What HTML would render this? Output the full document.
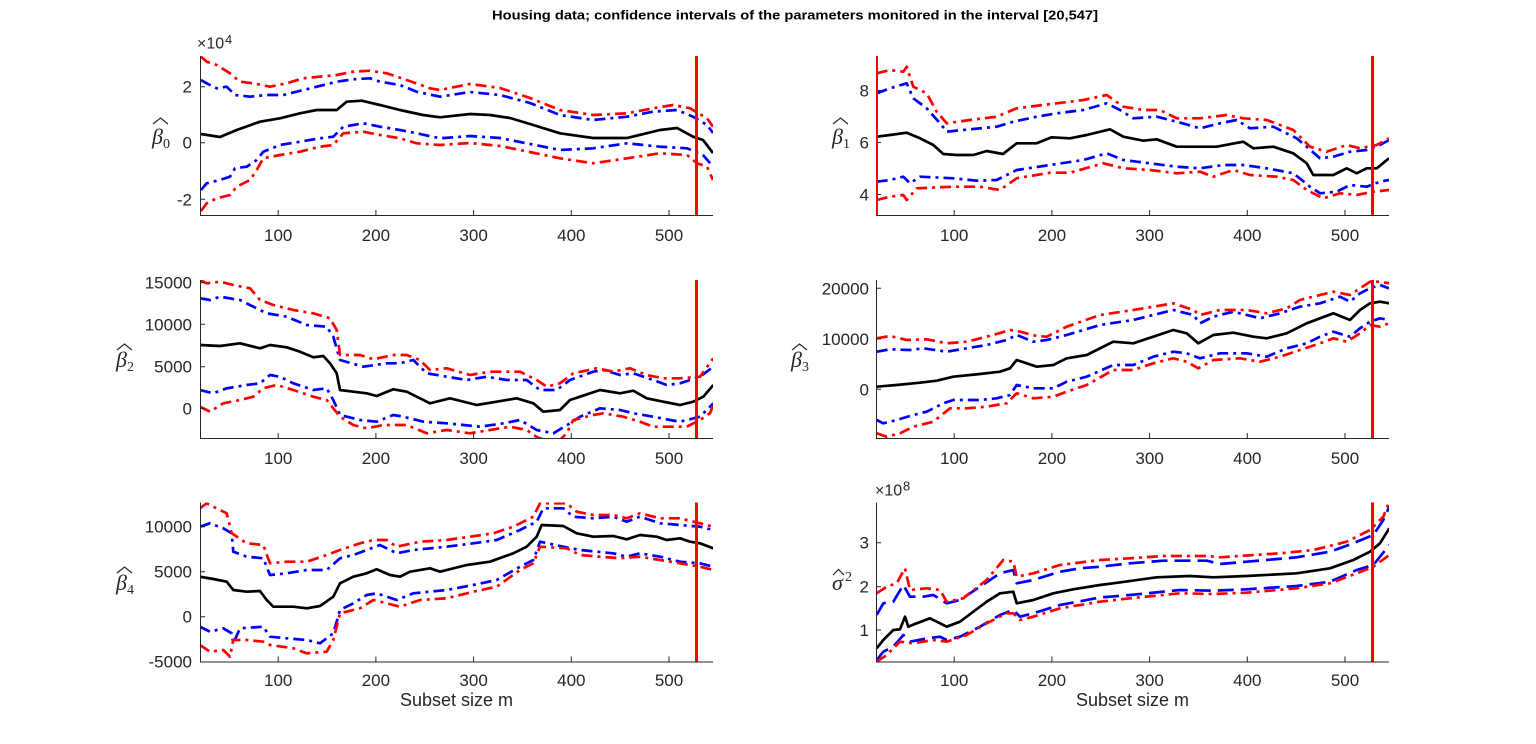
<!DOCTYPE html>
<html><head><meta charset="utf-8"><style>
html,body{margin:0;padding:0;background:#fff;}
svg{display:block;}
text{font-family:"Liberation Sans",Arial,sans-serif;fill:#262626;}
.tk{font-size:17px;}
.ax{stroke:#262626;stroke-width:1;fill:none;}
.k{stroke:#000;stroke-width:2.7;fill:none;stroke-linejoin:round;}
.b{stroke:#0000ff;stroke-width:2.7;fill:none;stroke-dasharray:11 5 3 5;stroke-linejoin:round;}
.r{stroke:#ff0000;stroke-width:2.7;fill:none;stroke-dasharray:11 5 3 5;stroke-linejoin:round;}
.bd{stroke:#0000ff;stroke-width:2.7;fill:none;stroke-dasharray:16 7;stroke-linejoin:round;}
.v{stroke:#ff0000;stroke-width:3;}
.lab{font-family:"Liberation Serif","DejaVu Serif",serif;font-style:italic;font-size:22px;fill:#262626;}
.sub{font-family:"Liberation Serif","DejaVu Serif",serif;font-size:14px;fill:#262626;}
.hat{stroke:#262626;stroke-width:1.2;fill:none;}
</style></head><body>
<svg width="1536" height="744" viewBox="0 0 1536 744" xmlns="http://www.w3.org/2000/svg">
<defs>
<clipPath id="c1"><rect x="200" y="56" width="513" height="159"/></clipPath>
<clipPath id="c2"><rect x="876" y="56" width="513" height="159"/></clipPath>
<clipPath id="c3"><rect x="200" y="280" width="513" height="158"/></clipPath>
<clipPath id="c4"><rect x="876" y="280" width="513" height="158"/></clipPath>
<clipPath id="c5"><rect x="200" y="502.5" width="513" height="159"/></clipPath>
<clipPath id="c6"><rect x="876" y="502.5" width="513" height="159"/></clipPath>
</defs>
<rect width="1536" height="744" fill="#fff"/>

<text x="795" y="19.5" text-anchor="middle" font-weight="bold" font-size="13" textLength="606" lengthAdjust="spacingAndGlyphs" style="fill:#000">Housing data; confidence intervals of the parameters monitored in the interval [20,547]</text>

<!-- ===== Panel 1 ===== -->
<g clip-path="url(#c1)">
<polyline class="k" points="201,134 220,137 236.7,130 260,121.7 280,118.3 300,113.3 316.7,110 336.7,110 346.7,101.7 361.7,100.7 380,105 400,110 423,115 440,117.3 470,114 490,115 510,118 530,124 560,133.3 593,138 627,138 660,130 677,128 693,136.7 703,140 713,153"/>
<polyline class="b" points="201,80 206.7,83.3 216.7,88.3 226.7,86.7 235,95 250,96.7 266.7,95 283.3,95 296.7,91.7 316.7,86.7 336.7,81.7 353.3,79.3 370,78.3 380,81.7 400,85 416.7,91.7 440,96.7 470,92 500,95 530,103 560,115 593,120 627,116.7 653,111.7 677,110 693,116.7 707,125 713,133"/>
<polyline class="b" points="201,190 206.7,183.3 220,180 230,176.7 235,168.3 246.7,166.7 256.7,160 263.3,151.7 280,145 300,141.7 320,138.3 333.3,136.7 343.3,126.7 363.3,123.3 380,126.7 400,130 416.7,133.3 440,138.3 470,136 500,138 530,144 560,150 593,148.3 627,143.3 660,146.7 687,148.3 703,155 713,166.7"/>
<polyline class="r" points="201,56.7 206.7,61.7 216.7,65 230,73.3 240,81.7 253,83.3 270,86.7 286.7,83.3 303,78.3 320,76.7 336.7,75 353.3,71.7 370,70.7 386.7,73.3 406.7,80 430,88.3 440,90 470,84 500,88 530,98 560,110 593,115 627,113.3 653,108.3 673,105 690,108.3 707,118.3 713,126.7"/>
<polyline class="r" points="201,211 206.7,203.3 216.7,198.3 230,195 236.7,186.7 250,180 256.7,170 263.3,158.3 280,155 300,151.7 320,146.7 333.3,145 343.3,133.3 363.3,131.7 380,135 400,138.3 416.7,143.3 440,145 470,143 500,146 530,152 560,158.3 593,163.3 627,158.3 660,153.3 687,155 697,163.3 707,166.7 713,180"/>
<line class="v" x1="696.5" y1="56" x2="696.5" y2="215"/>
</g>
<path class="ax" d="M200.5 56V215.5H713 M200 86.7h5 M200 142.7h5 M200 199.3h5 M278.2 215v-5 M375.9 215v-5 M473.6 215v-5 M571.3 215v-5 M669 215v-5"/>
<g class="tk" text-anchor="end"><text x="192" y="92.7">2</text><text x="192" y="148.7">0</text><text x="192" y="205.3">-2</text></g>
<g class="tk" text-anchor="middle"><text x="278.2" y="241">100</text><text x="375.9" y="241">200</text><text x="473.6" y="241">300</text><text x="571.3" y="241">400</text><text x="669" y="241">500</text></g>
<text x="197" y="48.5" font-size="16">×10</text><text x="225" y="44" font-size="13">4</text>
<text class="lab" x="152" y="144">β</text><text class="sub" x="163" y="148">0</text><path class="hat" d="M153 124 L160.5 118 L168 124"/>

<!-- ===== Panel 2 ===== -->
<g clip-path="url(#c2)">
<polyline class="k" points="876.7,136.7 890,135 906.7,132.7 920,138.3 933.3,145 943.3,154 956.7,155 973.3,155 986.7,151 1003,154 1016.7,143.3 1036.7,143.3 1051.7,137.3 1070,138.3 1086.7,135 1110,129.3 1123.3,136.7 1143.3,140.7 1156.7,139.3 1176.7,146.7 1200,146.7 1216.7,146.7 1243.3,141.7 1253.3,148.3 1273.3,146.7 1293.3,153.3 1306.7,163.3 1313.3,175 1333.3,175 1346.7,168.3 1356.7,173.3 1366.7,168.3 1376.7,168.3 1389,158.3"/>
<polyline class="b" points="876.7,93.3 890,88.3 906.7,83.3 913.3,98.3 926.7,108.3 940,123.3 946.7,131.7 970,129.3 996.7,126.7 1013.3,121.7 1036.7,116.7 1056.7,113.3 1083.3,110 1106.7,103.3 1120,110 1133.3,118.3 1156.7,116.7 1176.7,121.7 1200,128.3 1220,123.3 1236.7,120 1250,128.3 1273.3,126.7 1296.7,138.3 1306.7,146.7 1320,158.3 1333.3,156.7 1350,151.7 1366.7,150 1380,145 1389,140"/>
<polyline class="b" points="876.7,181.7 890,180 903.3,176.7 910,183.3 920,176.7 953.3,178.3 976.7,180.7 996.7,180 1016.7,170 1050,165 1083.3,160 1106.7,153.3 1123.3,160 1150,163.3 1176.7,166.7 1200,168.3 1223.3,165 1243.3,165 1266.7,168.3 1293.3,173.3 1310,186.7 1320,193.3 1336.7,191.7 1350,185 1366.7,186.7 1380,181.7 1389,180"/>
<polyline class="r" points="876.7,73.3 890,70 903.3,71.7 906.7,66.7 913.3,86.7 926.7,93.3 936.7,111.7 946.7,123.3 970,120 996.7,116.7 1016.7,108.3 1056.7,103.3 1083.3,100 1106.7,95 1123.3,106.7 1143.3,110 1160,110 1176.7,118.3 1200,118.3 1226.7,115 1243.3,118.3 1266.7,120 1293.3,130 1310,146.7 1326.7,151.7 1346.7,145 1360,148.3 1376.7,145 1389,138.3"/>
<polyline class="r" points="876.7,200 890,196.7 903.3,195 906.7,200 916.7,188.3 953.3,186.7 980,186.7 1000,190 1016.7,178.3 1050,172.7 1070,172.7 1103.3,163.3 1123.3,168.3 1150,170 1176.7,173.3 1200,171.7 1213.3,176.7 1233.3,170 1250,175 1276.7,176.7 1293.3,180 1306.7,190 1323.3,198.3 1340,193.3 1356.7,195 1373.3,191.7 1389,190"/>
<line class="v" x1="1372.5" y1="56" x2="1372.5" y2="215"/>
</g>
<path class="ax" d="M876.5 56V215.5H1389 M876 90.5h5 M876 142.5h5 M876 194.5h5 M954.2 215v-5 M1051.9 215v-5 M1149.6 215v-5 M1247.3 215v-5 M1345 215v-5"/>
<line x1="877" y1="56" x2="877" y2="215" stroke="#ff0000" stroke-width="2"/>
<g class="tk" text-anchor="end"><text x="869" y="96.5">8</text><text x="869" y="148.5">6</text><text x="869" y="200.5">4</text></g>
<g class="tk" text-anchor="middle"><text x="954.2" y="241">100</text><text x="1051.9" y="241">200</text><text x="1149.6" y="241">300</text><text x="1247.3" y="241">400</text><text x="1345" y="241">500</text></g>
<text class="lab" x="832" y="144">β</text><text class="sub" x="843" y="148">1</text><path class="hat" d="M833 124 L840.5 118 L848 124"/>

<!-- ===== Panel 3 ===== -->
<g clip-path="url(#c3)">
<polyline class="k" points="200,345 220,346 240,343.3 260,348.3 270,345 286.7,347.3 300,351.7 313.3,357.3 323.3,356 330,363.3 336.7,373.3 340,390 353.3,391.7 366.7,393.3 376.7,396 393.3,389.3 406.7,391.7 430,403.3 450,398.3 476.7,405 496.7,401.7 516.7,398.3 533.3,403.3 543.3,411.7 560,410 570,400 580,396.7 600,390 620,393.3 633.3,390.7 646.7,398.3 663.3,401.7 680,405 693.3,401.7 703.3,396.7 713.3,385"/>
<polyline class="b" points="200,298.3 210,300 220,296.7 240,300 253.3,306.7 266.7,313.3 286.7,316.7 306.7,325 326.7,326.7 333.3,336.7 340,360 363.3,366.7 386.7,363.3 400,363.3 413.3,360 426.7,373.3 446.7,376.7 466.7,380 486.7,376.7 506.7,380 526.7,380 540,390 556.7,390 570,380 593.3,371.7 603.3,370 620,375 633.3,373.3 653.3,380 666.7,385 680,383.3 700,376.7 713.3,366.7"/>
<polyline class="b" points="200,390 213.3,393.3 226.7,388.3 246.7,385 260,383.3 270,375 280,376.7 293.3,383.3 313.3,390 326.7,388.3 333.3,400 340,415 360,420 376.7,421.7 393.3,415 403.3,416.7 423.3,421.7 446.7,423.3 480,426.7 503.3,423.3 520,420 536.7,430 553.3,433.3 570,423.3 580,416.7 600,408.3 620,410 633.3,413.3 653.3,416.7 670,420 680,421.7 700,416.7 713.3,403.3"/>
<polyline class="r" points="200,280 206.7,283.3 220,281.7 233.3,285 250,288.3 260,300 273.3,305 293.3,310 313.3,313.3 330,318.3 336.7,330 340,355 360,355 373.3,359.3 393.3,355 406.7,355 420,360 430,370 446.7,368.3 470,375 490,371.7 520,371.7 536.7,380 546.7,386.7 560,383.3 573.3,373.3 596.7,368.3 613.3,371.7 630,368.3 646.7,375 663.3,378.3 680,378.3 700,376.7 713.3,358.3"/>
<polyline class="r" points="200,406.7 210,411.7 223.3,403.3 240,400 253.3,396.7 263.3,388.3 276.7,385 293.3,390 313.3,396.7 326.7,400 340,416.7 353.3,425 366.7,428.3 383.3,425 406.7,425 426.7,433.3 446.7,430 470,433.3 490,430 510,426.7 526.7,430 536.7,437 550,442 560,440 566.7,433.3 573.3,420 593.3,415 603.3,413.3 623.3,416.7 640,421.7 653.3,426.7 670,426.7 686.7,426.7 700,420 710,413.3 713.3,405"/>
<line class="v" x1="696.5" y1="280" x2="696.5" y2="438"/>
</g>
<path class="ax" d="M200.5 280V438.5H713 M200 282.7h5 M200 324.3h5 M200 366.7h5 M200 408.3h5 M278.2 438v-5 M375.9 438v-5 M473.6 438v-5 M571.3 438v-5 M669 438v-5"/>
<g class="tk" text-anchor="end"><text x="192" y="288.7">15000</text><text x="192" y="330.3">10000</text><text x="192" y="372.7">5000</text><text x="192" y="414.3">0</text></g>
<g class="tk" text-anchor="middle"><text x="278.2" y="464">100</text><text x="375.9" y="464">200</text><text x="473.6" y="464">300</text><text x="571.3" y="464">400</text><text x="669" y="464">500</text></g>
<text class="lab" x="116" y="367">β</text><text class="sub" x="127" y="371">2</text><path class="hat" d="M117 350 L124.5 344 L132 350"/>

<!-- ===== Panel 4 ===== -->
<g clip-path="url(#c4)">
<polyline class="k" points="876.7,386.7 896.7,385 920,382.7 936.7,380.7 953.3,376.7 980,374 1000,371.7 1010,368.3 1016.7,360 1026.7,363.3 1036.7,366.7 1053.3,365 1066.7,358.3 1086.7,355 1113.3,341.7 1133.3,343.3 1153.3,336.7 1173.3,330 1186.7,333.3 1198.3,343.3 1213.3,335 1233.3,332.7 1253.3,336.7 1266.7,338.3 1286.7,333.3 1306.7,323.3 1320,318.3 1333.3,313.3 1350,320 1360,310 1370,303.3 1380,301.7 1389,303.3"/>
<polyline class="b" points="876.7,351.7 890,349.3 910,350 923.3,348.3 946.7,351.7 966.7,348.3 986.7,345 1006.7,340 1016.7,335 1033.3,341.7 1046.7,340 1066.7,335 1100,325 1133.3,320 1153.3,315 1173.3,310 1193.3,315 1200,323.3 1213.3,316.7 1233.3,311.7 1260,318.3 1280,313.3 1300,306.7 1320,303.3 1340,296.7 1350,301.7 1360,293.3 1370,288.3 1380,285 1389,288.3"/>
<polyline class="b" points="876.7,420 883.3,423.3 896.7,420 913.3,415 926.7,411.7 943.3,403.3 953.3,400 980,400 996.7,398.3 1010,395 1016.7,385 1033.3,388.3 1053.3,388.3 1066.7,381.7 1086.7,376.7 1113.3,365 1133.3,365 1153.3,356.7 1173.3,351.7 1186.7,353.3 1200,358.3 1220,353.3 1246.7,353.3 1266.7,356.7 1286.7,348.3 1306.7,343.3 1320,336.7 1333.3,331.7 1350,336.7 1360,328.3 1370,321.7 1380,318.3 1389,320"/>
<polyline class="r" points="876.7,338.3 890,336 906.7,340 926.7,339.3 946.7,343.3 966.7,341.7 993.3,335 1010,330 1020,331.7 1036.7,336 1046.7,336.7 1066.7,326.7 1100,315 1133.3,310 1153.3,306.7 1173.3,303.3 1193.3,310 1200,315 1220,310 1246.7,310 1266.7,313.3 1286.7,308.3 1300,300 1320,295 1333.3,291.7 1350,295 1360,288.3 1370,281.7 1380,281.7 1389,283.3"/>
<polyline class="r" points="876.7,433.3 886.7,436.7 900,433.3 913.3,426.7 933.3,421.7 950,408.3 966.7,408.3 986.7,406.7 1006.7,403.3 1016.7,393.3 1033.3,398.3 1053.3,396.7 1066.7,391.7 1086.7,385 1113.3,370 1133.3,370 1153.3,363.3 1173.3,358.3 1186.7,361.7 1198.3,368.3 1213.3,360 1240,358.3 1260,361.7 1280,356.7 1300,350 1320,343.3 1333.3,338.3 1346.7,341.7 1360,333.3 1370,325 1380,326.7 1389,323.3"/>
<line class="v" x1="1372.5" y1="280" x2="1372.5" y2="438"/>
</g>
<path class="ax" d="M876.5 280V438.5H1389 M876 288.3h5 M876 339h5 M876 389.3h5 M954.2 438v-5 M1051.9 438v-5 M1149.6 438v-5 M1247.3 438v-5 M1345 438v-5"/>
<g class="tk" text-anchor="end"><text x="869" y="294.3">20000</text><text x="869" y="345">10000</text><text x="869" y="395.3">0</text></g>
<g class="tk" text-anchor="middle"><text x="954.2" y="464">100</text><text x="1051.9" y="464">200</text><text x="1149.6" y="464">300</text><text x="1247.3" y="464">400</text><text x="1345" y="464">500</text></g>
<text class="lab" x="791" y="367">β</text><text class="sub" x="802" y="371">3</text><path class="hat" d="M792 350 L799.5 344 L807 350"/>

<!-- ===== Panel 5 ===== -->
<g clip-path="url(#c5)">
<polyline class="k" points="200,576.7 213.3,579 226.7,581.7 233.3,590 246.7,591.7 260,591 266.7,600 273.3,606.7 293.3,606.7 306.7,608.3 320,606 333.3,596.7 340,583.3 353.3,576.7 366.7,573.3 376.7,569.3 390,575 400,576.7 410,571.7 430,568.3 440,571.7 466.7,565 490,561.7 513.3,553.3 526.7,546.7 536.7,536.7 541.7,525 563.3,526 576.7,533.3 593.3,536.7 613.3,536 626.7,539.3 640,535 656.7,536.7 666.7,540 680,538.3 690,541.7 700,543.3 713.3,548.3"/>
<polyline class="b" points="200,526.7 210,523.3 223.3,528.3 231.7,533.3 233.3,551.7 246.7,556.7 263.3,558.3 270,575 286.7,573.3 306.7,570 326.7,570 340,558.3 353.3,555 366.7,550 380,545 396.7,553.3 413.3,550 446.7,546.7 473.3,543.3 496.7,540 520,530 536.7,521.7 543.3,508.3 563.3,508.3 573.3,516.7 593.3,518.3 613.3,516.7 626.7,521.7 640,516.7 660,523.3 680,525 700,526.7 713.3,530"/>
<polyline class="b" points="200,626.7 210,631.7 223.3,628.3 231.7,633.3 233.3,643.3 240,628.3 263.3,626.7 270,636.7 286.7,638.3 306.7,640 320,643.3 333.3,633.3 340,610 353.3,603.3 366.7,595 376.7,593.3 396.7,600 413.3,593.3 446.7,590 473.3,585 496.7,580 520,566.7 533.3,560 540,541.7 563.3,546.7 580,550 596.7,551.7 613.3,553.3 626.7,556.7 640,553.3 660,556.7 680,561.7 700,563.3 713.3,566.7"/>
<polyline class="r" points="200,508.3 206.7,503.3 213.3,506.7 226.7,513.3 231.7,533.3 246.7,543.3 263.3,545 270,563.3 286.7,561.7 306.7,561.7 326.7,555 340,550 360,543.3 373.3,540 386.7,540 396.7,546.7 420,541.7 446.7,540 470,536.7 493.3,533.3 513.3,526.7 533.3,516.7 540,503.3 566.7,503.3 576.7,511.7 593.3,515 613.3,515 626.7,518.3 640,513.3 660,518.3 680,518.3 700,523.3 713.3,526.7"/>
<polyline class="r" points="200,645 210,651.7 223.3,650 230,656.7 233.3,640 246.7,640 263.3,641.7 270,645 293.3,648.3 306.7,653.3 326.7,651.7 333.3,640 340,613.3 360,608.3 373.3,600 386.7,603.3 400,606.7 420,600 446.7,598.3 473.3,591.7 496.7,586.7 520,570 533.3,563.3 540,546.7 566.7,548.3 580,555 600,556.7 620,558.3 640,556.7 660,560 680,563.3 700,566.7 713.3,570"/>
<line class="v" x1="696.5" y1="502.5" x2="696.5" y2="661.5"/>
</g>
<path class="ax" d="M200.5 502.5V662H713 M200 526.7h5 M200 571.7h5 M200 616.7h5 M278.2 661.5v-5 M375.9 661.5v-5 M473.6 661.5v-5 M571.3 661.5v-5 M669 661.5v-5"/>
<g class="tk" text-anchor="end"><text x="192" y="532.7">10000</text><text x="192" y="577.7">5000</text><text x="192" y="622.7">0</text><text x="192" y="667.7">-5000</text></g>
<g class="tk" text-anchor="middle"><text x="278.2" y="686">100</text><text x="375.9" y="686">200</text><text x="473.6" y="686">300</text><text x="571.3" y="686">400</text><text x="669" y="686">500</text></g>
<text x="456.5" y="706" text-anchor="middle" font-size="18">Subset size m</text>
<text class="lab" x="116" y="590">β</text><text class="sub" x="127" y="594">4</text><path class="hat" d="M117 573 L124.5 567 L132 573"/>

<!-- ===== Panel 6 ===== -->
<g clip-path="url(#c6)">
<polyline class="k" points="876.7,648.3 883.3,640 893.3,630 900,629.3 905,616.7 908.3,626.7 916.7,623.3 930,618.3 940,623.3 946.7,626.7 960,621.7 973.3,611.7 986.7,601.7 1000,593.3 1013.3,591.7 1016.7,603.3 1033.3,600 1053.3,593.3 1073.3,589.3 1100,585 1113.3,583.3 1156.7,577.3 1190,576 1213.3,577.3 1246.7,576 1296.7,573.3 1330,568.3 1353.3,560 1370,551.7 1380,543.3 1389.3,528.3"/>
<polyline class="bd" points="876.7,615 883.3,603.3 893.3,601.7 903.3,585 910,596.7 923.3,596.7 933.3,595 946.7,603.3 960,600 980,586.7 1000,573.3 1013.3,570 1016.7,583.3 1033.3,580 1060,571.7 1080,568.3 1100,566.7 1130,563.3 1163.3,560.7 1206.7,560.7 1220,564 1246.7,561.7 1296.7,557.3 1330,551.7 1353.3,543.3 1373.3,535 1383.3,520 1389.3,506.7"/>
<polyline class="bd" points="876.7,660 883.3,651.7 893.3,646.7 903.3,635 910,641.7 926.7,638.3 940,636.7 946.7,640 960,636.7 980,626.7 1000,615 1013.3,610 1020,616.7 1033.3,613.3 1060,605 1100,597.5 1130,595 1180,590 1213.3,590.7 1246.7,589.3 1296.7,586 1330,581.7 1356.7,570 1373.3,565 1389.3,545"/>
<polyline class="r" points="876.7,593.3 886.7,586.7 896.7,583.3 905,568.3 910,590 926.7,588.3 940,590 946.7,601.7 963.3,598.3 986.7,580 1003.3,560 1013.3,561.7 1016.7,576.7 1033.3,573.3 1060,565 1100,560 1130,558.3 1163.3,556 1206.7,556 1220,557.3 1280,553.3 1313.3,550 1346.7,541.7 1370,530 1383.3,516.7 1389.3,501.7"/>
<polyline class="r" points="876.7,661.7 886.7,655 900,641.7 913.3,643.3 933.3,640 946.7,641.7 966.7,635 986.7,623.3 1006.7,613.3 1013.3,613.3 1020,620 1033.3,616.7 1060,608.3 1100,601.7 1130,598.3 1180,593.3 1213.3,594 1246.7,592.7 1296.7,588.3 1330,583.3 1356.7,573.3 1373.3,566.7 1389.3,555"/>
<line class="v" x1="1372.5" y1="502.5" x2="1372.5" y2="661.5"/>
</g>
<path class="ax" d="M876.5 502.5V662H1389 M876 542.7h5 M876 586.7h5 M876 630h5 M954.2 661.5v-5 M1051.9 661.5v-5 M1149.6 661.5v-5 M1247.3 661.5v-5 M1345 661.5v-5"/>
<g class="tk" text-anchor="end"><text x="869" y="548.7">3</text><text x="869" y="592.7">2</text><text x="869" y="636">1</text></g>
<g class="tk" text-anchor="middle"><text x="954.2" y="686">100</text><text x="1051.9" y="686">200</text><text x="1149.6" y="686">300</text><text x="1247.3" y="686">400</text><text x="1345" y="686">500</text></g>
<text x="1132.5" y="706" text-anchor="middle" font-size="18">Subset size m</text>
<text x="875" y="495.5" font-size="16">×10</text><text x="903" y="490.5" font-size="13">8</text>
<text class="lab" x="832" y="590">σ</text><text class="sub" x="845" y="581">2</text><path class="hat" d="M833 575 L838.5 569.5 L844 575"/>
</svg>
</body></html>
